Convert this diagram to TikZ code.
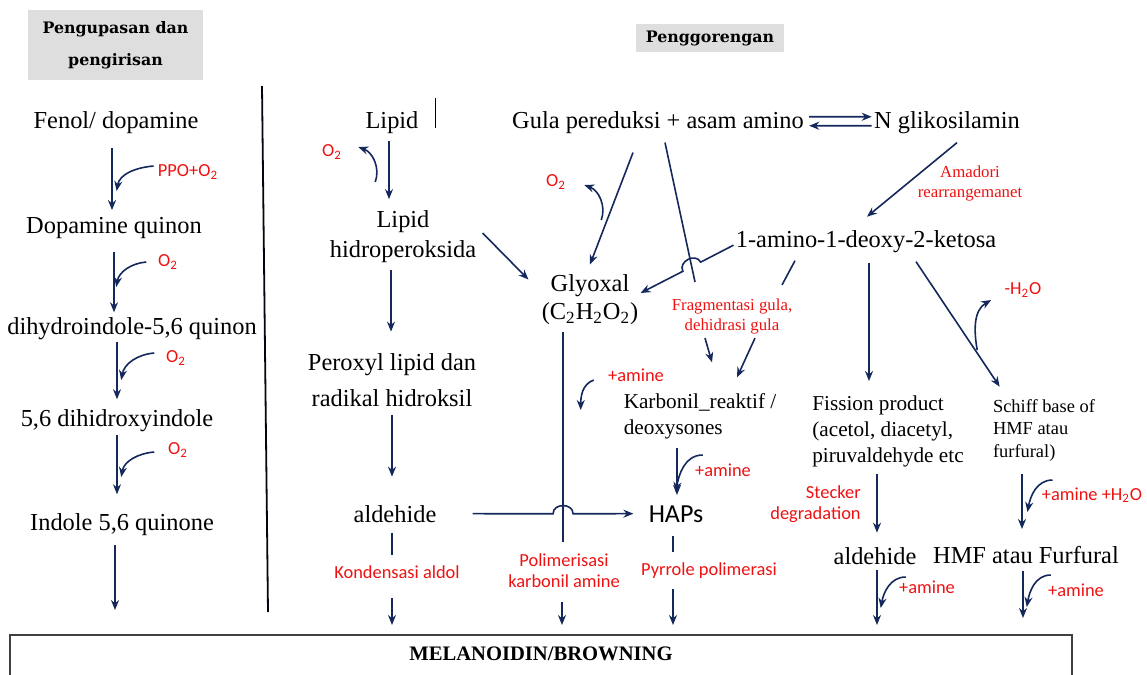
\documentclass[tikz,border=0pt]{standalone}
\usepackage{fontspec}
\setmainfont{Liberation Serif}
\newfontfamily\labelsans{Carlito}
\newfontfamily\headslab{DejaVu Serif}
\usepackage{tikz}
\usetikzlibrary{positioning, arrows.meta, calc}
\definecolor{ArrowNavy}{HTML}{14285C}
\definecolor{LabelRed}{HTML}{EE1111}
\definecolor{HeadGray}{HTML}{DEDEDE}
\definecolor{BoxLine}{HTML}{404040}

\begin{document}
\begin{tikzpicture}[
  x=0.5pt, y=-0.5pt,
  >={Stealth[length=5pt, width=4pt]},
  flow/.style={->, line width=0.8pt, color=ArrowNavy},
  curl/.style={->, line width=0.8pt, color=ArrowNavy},
  plainln/.style={line width=0.8pt, color=ArrowNavy},
  chem/.style={font=\fontsize{12.2}{15}\selectfont, align=center, inner sep=1pt},
  chemS/.style={font=\fontsize{10.6}{13}\selectfont, align=left, inner sep=1pt},
  chemXS/.style={font=\fontsize{9.2}{11.25}\selectfont, align=left, inner sep=1pt},
  rsans/.style={font=\labelsans\fontsize{9.2}{10.5}\selectfont, text=LabelRed,
                align=center, inner sep=1pt},
  rserif/.style={font=\fontsize{8.4}{10}\selectfont, text=LabelRed,
                 align=center, inner sep=1pt},
  headbox/.style={fill=HeadGray, font=\headslab\bfseries\fontsize{7.9}{16}\selectfont,
                  align=center, inner sep=0pt},
]
  \useasboundingbox (0,0) rectangle (1147,675);

  % Headers
  \node[headbox, minimum width=87.5pt, minimum height=35pt]
    (hdrA) at (115.5,45) {Pengupasan dan\\pengirisan};
  \node[headbox, minimum width=74pt, minimum height=14pt]
    (hdrB) at (710,38) {Penggorengan};

  % divider and bottom box
  \draw[line width=0.9pt, color=black!85!ArrowNavy] (262,86) -- (268,612);
  \coordinate (boxtop) at (541,625);
  \draw[line width=0.9pt, color=BoxLine] (10,700) |- (1072,635) -- (1072,700);
  \node[font=\bfseries\fontsize{10.3}{12}\selectfont, anchor=base, inner sep=1pt]
    (melan) at (541,660) {MELANOIDIN/BROWNING};

  %% Pengupasan: left column
  \node[chem, anchor=base] (fenol) at (116,128) {Fenol/ dopamine};
  \node[chem, anchor=base] (dopq)  at (114,233) {Dopamine quinon};
  \node[chem, anchor=base] (dihyq) at (132,334) {dihydroindole-5,6 quinon};
  \node[chem, anchor=base] (dihix) at (117,426) {5,6 dihidroxyindole};
  \node[chem, anchor=base] (indq)  at (122,530) {Indole 5,6 quinone};

  \node[rsans] (ppo) at (188,172) {PPO+O\textsubscript{2}};
  \node[rsans] (oxA) at (168,262) {O\textsubscript{2}};
  \node[rsans] (oxB) at (176,358) {O\textsubscript{2}};
  \node[rsans] (oxC) at (178,450) {O\textsubscript{2}};

  \draw[flow, shorten <=6.3pt, shorten >=2.2pt]
    ([xshift=-2pt]fenol.south) -- ([xshift=-2pt]fenol.south |- dopq.north);
  \draw[flow, shorten <=5.8pt, shorten >=1.2pt]
    (dopq.south) -- (dopq.south |- dihyq.north);
  \draw[flow, shorten >=3.7pt]
    ([xshift=-7.5pt]dihyq.south) -- ([xshift=-7.5pt]dihyq.south |- dihix.north);
  \draw[flow, shorten <=0.8pt, shorten >=8.2pt]
    (dihix.south) -- (dihix.south |- indq.north);
  \draw[flow, shorten <=3.8pt, shorten >=7.5pt]
    ([xshift=-3.5pt]indq.south) -- ([xshift=-3.5pt]indq.south |- boxtop);

  \draw[curl] ([shift={(-2,-6)}]ppo.west) to[out=185, in=80] ++(-37,25);
  \draw[curl] ([shift={(-9.5,0)}]oxA.west) to[out=185, in=80] ++(-30,25);
  \draw[curl] ([shift={(-9.5,-5)}]oxB.west) to[out=185, in=80] ++(-33,27);
  \draw[curl] ([shift={(-11.5,2)}]oxC.west) to[out=185, in=80] ++(-33,25);

  %% Penggorengan: lipid column
  \node[chem, anchor=base] (lipid) at (392,128) {Lipid};
  \draw[line width=0.5pt] (435,98) -- (435,128);
  \node[chem] (lhp) at (403,237) {Lipid\\hidroperoksida};
  \node[chem] (perox) at (392,380) {Peroxyl lipid dan\\[3pt]radikal hidroksil};
  \node[chem, anchor=base] (aldA) at (395,522) {aldehide};
  \node[rsans] (oxL) at (332,152) {O\textsubscript{2}};
  \node[rsans] (kond) at (397,572) {Kondensasi aldol};

  \draw[flow, shorten <=2.8pt, shorten >=4.7pt]
    ([xshift=-1.5pt]lipid.south) -- ([xshift=-1.5pt]lipid.south |- lhp.north);
  \draw[curl] ([shift={(31,30)}]oxL.east) to[out=70, in=-20] ([shift={(14,-5)}]oxL.east);
  \draw[flow, shorten <=2.3pt, shorten >=9.7pt]
    ([xshift=-6pt]lhp.south) -- ([xshift=-6pt]lhp.south |- perox.north);
  \draw[flow, shorten <=2.8pt, shorten >=13pt]
    (perox.south) -- (perox.south |- aldA.north);
  \draw[plainln, shorten <=4pt, shorten >=4pt]
    ([xshift=-1.5pt]aldA.south) -- ([xshift=-1.5pt]aldA.south |- kond.north);
  \draw[flow, shorten <=8.5pt]
    ([xshift=-1.5pt]aldA.south |- kond.south) -- ([xshift=-1.5pt]aldA.south |- boxtop);

  %% Glyoxal
  \node[chem] (glyox) at (590,300)
    {Glyoxal\\[-1pt](C\textsubscript{2}H\textsubscript{2}O\textsubscript{2})};
  \node[rsans] (polim) at (564,571) {Polimerisasi\\karbonil amine};
  \draw[flow] ([shift={(4,-4)}]lhp.east) -- ([shift={(-11,7)}]glyox.north west);
  \coordinate (glyTop) at ([xshift=-13.5pt]glyox.south);
  \coordinate (glyBot) at ([xshift=-13.5pt]glyox.south |- polim.north);
  \draw[plainln, shorten <=2.5pt, shorten >=4.7pt] (glyTop) -- (glyBot);
  \draw[flow, shorten <=6pt]
    ([xshift=-1pt]polim.south) -- ([xshift=-1pt]polim.south |- boxtop);

  %% aldehide -> HAPs, hopping the glyoxal line
  \node[font=\labelsans\fontsize{13}{15}\selectfont, anchor=base, inner sep=1pt]
    (haps) at (676,522) {HAPs};
  \coordinate (aldE) at (aldA.east);
  \coordinate (hapsW) at (haps.west |- aldE);
  \coordinate (hopA) at (intersection of glyTop--glyBot and aldE--hapsW);
  \draw[flow, shorten <=17pt, shorten >=6.5pt]
    (aldE) -- ($(hopA)!5pt!(aldE)$) to[bend left=90, looseness=1.4]
    ($(hopA)!5pt!(hapsW)$) -- (hapsW);

  %% Maillard: gula pereduksi
  \node[chem, anchor=base] (gula) at (658,128) {Gula pereduksi + asam amino};
  \node[chem, anchor=base] (nglik) at (947,128) {N glikosilamin};
  \draw[flow, shorten <=1.5pt] ([yshift=2.7pt]gula.east) -- ([yshift=2.7pt]nglik.west);
  \draw[flow, shorten >=1.5pt] ([yshift=-1.8pt]nglik.west) -- ([yshift=-1.8pt]gula.east);

  \node[rsans] (oxG) at (556,182) {O\textsubscript{2}};
  \draw[flow] ([shift={(-25,17)}]gula.south) -- ([shift={(0,-8)}]glyox.north);
  \draw[curl] ([shift={(33,38)}]oxG.east) to[out=70, in=-20] ([shift={(16,3)}]oxG.east);

  \node[rserif] (frag) at (732,316) {Fragmentasi gula,\\dehidrasi gula};
  \coordinate (fragS) at ([shift={(7,7)}]gula.south);
  \coordinate (fragE) at ([shift={(-37,-14)}]frag.north);
  \draw[plainln] (fragS) -- (fragE);

  %% Amadori product
  \node[chem, anchor=base] (amino) at (866,247) {1-amino-1-deoxy-2-ketosa};
  \node[rserif] (amad) at (970,183) {Amadori\\rearrangemanet};
  \draw[flow] ([shift={(10,7)}]nglik.south) -- ([shift={(1,-11)}]amino.north);

  \coordinate (aminoW) at ([yshift=-2pt]amino.west);
  \coordinate (glyE) at ([yshift=3.5pt]glyox.east);
  \coordinate (hopB) at (intersection of aminoW--glyE and fragS--fragE);
  \draw[flow] (aminoW) -- ($(hopB)!5pt!(aminoW)$) to[bend right=90, looseness=1.4]
    ($(hopB)!5pt!(glyE)$) -- (glyE);
  \draw[plainln] ([shift={(-71,6)}]amino.south) -- ([shift={(50,-11)}]frag.north);

  %% Karbonil reaktif -> HAPs
  \node[chemS] (karb) at (700,416.5) {Karbonil\_reaktif /\\deoxysones};
  \draw[flow] ([shift={(-27,2)}]frag.south) -- ([shift={(12,-29)}]karb.north);
  \draw[flow] ([shift={(23,2)}]frag.south) -- ([shift={(37,-14)}]karb.north);
  \node[rsans] (amK) at (636,375) {+amine};
  \draw[curl] ([shift={(-12,5)}]amK.west) to[out=200, in=90] ++(-13,30);

  \draw[flow, shorten <=3pt, shorten >=4pt]
    ([xshift=-11.5pt]karb.south) -- ([xshift=-11.5pt]karb.south |- haps.north);
  \node[rsans] (amH) at (723,470) {+amine};
  \draw[curl] ([shift={(10,-15)}]amH.west) to[out=180, in=80] ++(-27,37);

  \node[rsans] (pyr) at (709,570.5) {Pyrrole polimerasi};
  \draw[plainln, shorten <=5.5pt, shorten >=4pt]
    ([xshift=-1.5pt]haps.south) -- ([xshift=-1.5pt]haps.south |- pyr.north);
  \draw[flow, shorten <=4pt]
    ([xshift=-1.5pt]haps.south |- pyr.south) -- ([xshift=-1.5pt]haps.south |- boxtop);

  %% Fission product and Schiff base
  \node[chemS] (fiss) at (888,431.5) {Fission product\\(acetol, diacetyl,\\piruvaldehyde etc};
  \draw[flow, shorten <=4.3pt, shorten >=6.2pt]
    ([xshift=1.5pt]amino.south) -- ([xshift=1.5pt]amino.south |- fiss.north);
  \node[chemXS] (schiff) at (1044,430) {Schiff base of\\HMF atau\\furfural)};
  \draw[flow] ([shift={(50,7)}]amino.south) -- ([shift={(9,-10)}]schiff.north west);
  \node[rsans] (hwat) at (1023,290) {-H\textsubscript{2}O};
  \draw[curl] ([shift={(-25,60)}]hwat.west) to[out=100, in=210] ([shift={(-11,10)}]hwat.west);

  \node[rsans, align=right] (stk) at (815.5,504) {Stecker\\degradation};
  \node[chem, anchor=base] (aldB) at (875,564) {aldehide};
  \draw[flow, shorten <=2pt, shorten >=6pt]
    ([xshift=-5.5pt]fiss.south) -- ([xshift=-5.5pt]fiss.south |- aldB.north);
  \draw[flow, shorten <=1.8pt]
    ([xshift=1pt]aldB.south) -- ([xshift=1pt]aldB.south |- boxtop);
  \node[rsans] (amA) at (927,587) {+amine};
  \draw[curl] ([shift={(9,-10)}]amA.west) to[out=180, in=80] ++(-25,31);

  \node[chem, anchor=base] (hmf) at (1026,563) {HMF atau Furfural};
  \draw[flow, shorten <=5.3pt, shorten >=7.2pt]
    ([xshift=-11pt]schiff.south) -- ([xshift=-11pt]schiff.south |- hmf.north);
  \node[rsans] (amW) at (1092,495) {+amine +H\textsubscript{2}O};
  \draw[curl] ([shift={(13,-15)}]amW.west) to[out=180, in=80] ++(-25,32);
  \draw[flow, shorten <=2.5pt, shorten >=3.5pt]
    ([xshift=-1.5pt]hmf.south) -- ([xshift=-1.5pt]hmf.south |- boxtop);
  \node[rsans] (amF) at (1076,590) {+amine};
  \draw[curl] ([shift={(5,-15)}]amF.west) to[out=180, in=80] ++(-24,32);

\end{tikzpicture}
\end{document}
